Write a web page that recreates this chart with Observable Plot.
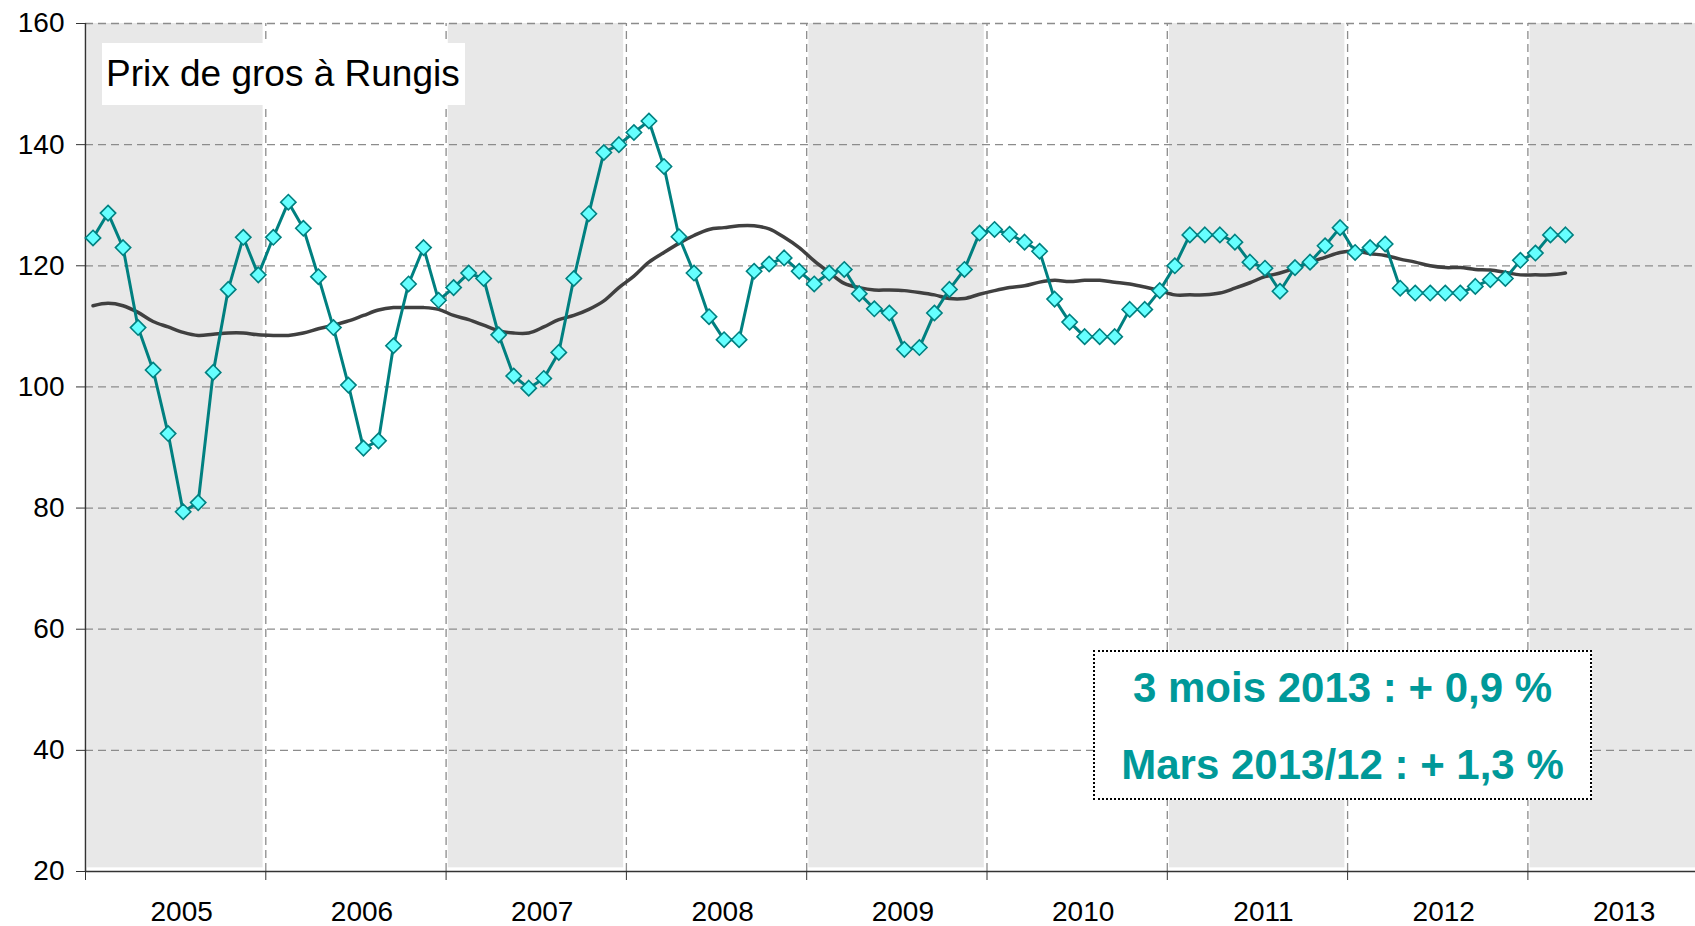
<!DOCTYPE html>
<html>
<head>
<meta charset="utf-8">
<script src="https://cdn.jsdelivr.net/npm/d3@7"></script>
<script src="https://cdn.jsdelivr.net/npm/@observablehq/plot@0.6"></script>
<style>
  html, body { margin: 0; padding: 0; background: #fff; }
  #wrap { position: relative; width: 1695px; height: 926px; overflow: hidden; font-family: "Liberation Sans", Arial, sans-serif; }
  #title { position: absolute; left: 102px; top: 43px; width: 363px; height: 62px; background: #fff;
           font-size: 37px; color: #000; line-height: 62px; padding-left: 4px; box-sizing: border-box; white-space: nowrap; }
  #note { position: absolute; left: 1093px; top: 650px; width: 499px; height: 150px; background: #fff;
          border: 2px dotted #000; box-sizing: border-box; color: #009999; font-weight: bold; font-size: 42px;
          text-align: center; white-space: nowrap; }
  #note div { position: absolute; left: 0; right: 0; }
</style>
</head>
<body>
<div id="wrap">
  <div id="chart"></div>
  <div id="title">Prix de gros à Rungis</div>
  <div id="note"><div style="top:12px">3 mois 2013 : + 0,9 %</div><div style="top:89px">Mars 2013/12 : + 1,3 %</div></div>
</div>
<script>
// Monthly series, January 2005 to March 2013
const startYear = 2005;
const prix = [
  124.6, 128.7, 123.0, 109.8, 102.8, 92.3, 79.4, 80.9, 102.4, 116.1, 124.7, 118.5,
  124.7, 130.5, 126.2, 118.2, 109.8, 100.3, 89.9, 91.1, 106.8, 117.0, 123.0, 114.3,
  116.4, 118.8, 117.9, 108.6, 101.8, 99.8, 101.4, 105.7, 117.9, 128.6, 138.7, 140.0,
  142.0, 143.9, 136.4, 124.8, 118.8, 111.6, 107.8, 107.8, 119.1, 120.3, 121.3, 119.1,
  117.0, 118.8, 119.4, 115.4, 112.9, 112.2, 106.2, 106.5, 112.2, 116.1, 119.4, 125.4,
  126.0, 125.2, 123.9, 122.4, 114.5, 110.7, 108.3, 108.3, 108.3, 112.8, 112.8, 115.9,
  120.0, 125.1, 125.1, 125.1, 123.9, 120.6, 119.6, 115.8, 119.7, 120.6, 123.3, 126.3,
  122.2, 123.0, 123.6, 116.3, 115.5, 115.5, 115.5, 115.5, 116.6, 117.7, 117.9, 120.9,
  122.1, 125.1, 125.1
];
const moyenne = [
  113.4, 113.8, 113.4, 112.3, 110.8, 109.9, 109.0, 108.5, 108.7, 108.9, 108.9, 108.6,
  108.5, 108.5, 108.9, 109.6, 110.2, 110.9, 111.8, 112.7, 113.1, 113.1, 113.1, 112.8,
  111.8, 111.1, 110.2, 109.3, 108.9, 108.9, 109.9, 111.1, 111.8, 112.8, 114.2, 116.4,
  118.3, 120.6, 122.2, 123.7, 125.0, 126.0, 126.3, 126.6, 126.6, 126.1, 124.7, 123.0,
  120.8, 118.9, 117.1, 116.4, 116.0, 116.0, 115.9, 115.6, 115.2, 114.6, 114.6, 115.3,
  115.9, 116.4, 116.7, 117.3, 117.6, 117.4, 117.6, 117.6, 117.3, 117.0, 116.5, 115.9,
  115.2, 115.2, 115.2, 115.5, 116.3, 117.2, 118.2, 118.8, 119.6, 120.6, 121.4, 122.2,
  122.4, 122.0, 121.7, 121.1, 120.6, 120.0, 119.7, 119.7, 119.4, 119.3, 118.9, 118.5,
  118.5, 118.5, 118.8
];
const years = [2005, 2006, 2007, 2008, 2009, 2010, 2011, 2012, 2013];
const shadedYears = [2005, 2007, 2009, 2011, 2013];
const yTicks = [20, 40, 60, 80, 100, 120, 140, 160];

const W = 1695, H = 926;
const mL = 85, mT = 23, mB = 55;
const yearPx = 180.3;
const xEnd = startYear + (W - mL) / yearPx;

const series = prix.map((v, i) => ({date: startYear + (i + 0.5) / 12, v}));
const avg = moyenne.map((v, i) => ({date: startYear + (i + 0.5) / 12, v}));
const bands = shadedYears.map(y => ({x1: y + 0.012, x2: y + 0.985}));

const chart = Plot.plot({
  width: W, height: H,
  marginLeft: mL, marginRight: 0, marginTop: mT, marginBottom: mB,
  style: {fontFamily: "'Liberation Sans', Arial, sans-serif", fontSize: "28px", color: "#000", background: "#fff"},
  x: {domain: [startYear, xEnd], label: null},
  y: {domain: [20, 160], label: null},
  marks: [
    Plot.rect(bands, {x1: "x1", x2: "x2", y1: 20.6, y2: 160, fill: "#e8e8e8"}),
    Plot.ruleY(yTicks.filter(d => d > 20), {stroke: "#8c8c8c", strokeWidth: 1.3, strokeDasharray: "8,5"}),
    Plot.ruleX(years.slice(1), {y1: 20, y2: 160, stroke: "#8c8c8c", strokeWidth: 1.3, strokeDasharray: "8,5"}),
    Plot.axisY({ticks: yTicks, label: null, tickSize: 9, tickPadding: 12, stroke: "#333", fontSize: 28, tickFormat: d => String(d)}),
    Plot.axisX({ticks: years, label: null, tickSize: 9, tickFormat: () => "", stroke: "#333"}),
    Plot.axisX({ticks: years.map(y => y + 0.5), label: null, tickSize: 0, tickPadding: 30, dx: 6, fontSize: 28, tickFormat: d => String(Math.floor(d))}),
    Plot.ruleX([startYear], {stroke: "#333", strokeWidth: 1.5}),
    Plot.ruleY([20], {stroke: "#333", strokeWidth: 1.5}),
    Plot.line(avg, {x: "date", y: "v", stroke: "#404040", strokeWidth: 3.5, curve: "catmull-rom"}),
    Plot.line(series, {x: "date", y: "v", stroke: "#008080", strokeWidth: 3}),
    Plot.dot(series, {x: "date", y: "v", symbol: "diamond2", r: 6.9, fill: "#66ffff", stroke: "#008080", strokeWidth: 1.6})
  ]
});
document.getElementById("chart").appendChild(chart);
</script>
</body>
</html>
